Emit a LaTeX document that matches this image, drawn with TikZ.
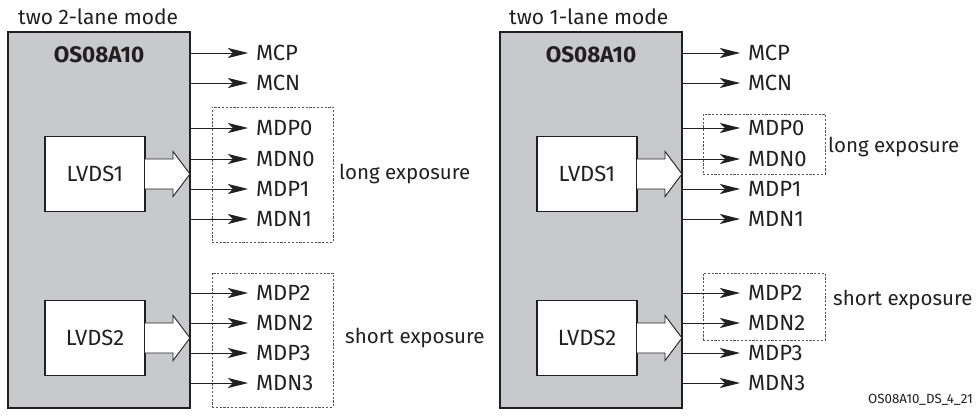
\documentclass[tikz,border=0pt]{standalone}
\usepackage{fontspec}
\setmainfont{Fira Sans}
\usetikzlibrary{arrows.meta}
\definecolor{ink}{HTML}{231F20}
\definecolor{chipgray}{HTML}{C8C9CB}
\definecolor{dashgray}{HTML}{555555}
\tikzset{
  chip/.style={draw=ink, line width=2pt, fill=chipgray, outer sep=0pt, inner sep=0pt,
    minimum width=182pt, minimum height=376pt, anchor=north west},
  lvds/.style={draw=ink, line width=1.8pt, fill=white, outer sep=0pt, inner sep=0pt,
    minimum width=100pt, minimum height=75pt, text=ink},
  sig/.style={draw=ink, line width=0.9pt, -{Stealth[length=20pt,width=10pt,inset=5pt]}},
  pin/.style={anchor=west, inner xsep=8pt, inner ysep=0pt, outer sep=0pt, text=ink},
  hollow/.style={draw=ink, line width=0.9pt, fill=white, line join=miter},
  grp/.style={draw=dashgray, line width=0.8pt, dash pattern=on 2.2pt off 1.6pt,
    outer sep=0pt, inner sep=0pt},
  chipname/.style={font=\fontsize{22.5}{26}\selectfont\bfseries, text=ink},
  title/.style={font=\fontsize{21}{25}\selectfont, text=ink, inner sep=0pt, anchor=west},
  expo/.style={font=\fontsize{20.5}{24}\selectfont, text=ink, inner sep=0pt, anchor=west},
  tag/.style={font=\fontsize{13.3}{16}\selectfont, text=ink, inner sep=0pt, anchor=east}
}
\begin{document}
\begin{tikzpicture}[x=1pt, y=-1pt, font=\fontsize{22}{26}\selectfont]
\useasboundingbox (0,0) rectangle (977,415);

% ---------------- left panel: two 2-lane mode ----------------
\node[title] (titleA) at (18,17) {two 2-lane mode};
\node[chip] (chipA) at (8,32) {};
\node[chipname] (nameA) at (99,55) {OS08A10};
\node[lvds] (lvA1) at (95,174) {LVDS1};
\node[lvds] (lvA2) at (95,338) {LVDS2};
\draw[hollow] (lvA1.east) ++(0,-15) -- ++(28,0) -- ++(0,-7.5) -- (chipA.east |- lvA1.east)
  -- ++(-17,22.5) -- ++(0,-7.5) -- ++(-28,0);
\draw[hollow] (lvA2.east) ++(0,-15) -- ++(28,0) -- ++(0,-7.5) -- (chipA.east |- lvA2.east)
  -- ++(-17,22.5) -- ++(0,-7.5) -- ++(-28,0);

\node[grp, minimum width=121pt, minimum height=135pt, anchor=north west] (grpA1) at (212,107) {};
\node[grp, minimum width=121pt, minimum height=134pt, anchor=north west] (grpA2) at (212,273) {};

\node[pin] (aMCP)  at (248,53)  {MCP};
\node[pin] (aMCN)  at (248,83)  {MCN};
\node[pin] (aMDP0) at (248,128) {MDP0};
\node[pin] (aMDN0) at (248,159) {MDN0};
\node[pin] (aMDP1) at (248,189) {MDP1};
\node[pin] (aMDN1) at (248,219) {MDN1};
\node[pin] (aMDP2) at (248,293) {MDP2};
\node[pin] (aMDN2) at (248,323) {MDN2};
\node[pin] (aMDP3) at (248,353) {MDP3};
\node[pin] (aMDN3) at (248,383) {MDN3};
\foreach \p in {MCP,MCN,MDP0,MDN0,MDP1,MDN1,MDP2,MDN2,MDP3,MDN3}
  \draw[sig] (chipA.east |- a\p.west) -- (a\p.west);

\node[expo] (longA) at (339,174) {long exposure};
\node[expo] (shortA) at (345,338) {short exposure};

% ---------------- right panel: two 1-lane mode ----------------
\node[title] (titleB) at (509,17) {two 1-lane mode};
\node[chip] (chipB) at (500,32) {};
\node[chipname] (nameB) at (591,55) {OS08A10};
\node[lvds] (lvB1) at (587,174) {LVDS1};
\node[lvds] (lvB2) at (587,338) {LVDS2};
\draw[hollow] (lvB1.east) ++(0,-15) -- ++(28,0) -- ++(0,-7.5) -- (chipB.east |- lvB1.east)
  -- ++(-17,22.5) -- ++(0,-7.5) -- ++(-28,0);
\draw[hollow] (lvB2.east) ++(0,-15) -- ++(28,0) -- ++(0,-7.5) -- (chipB.east |- lvB2.east)
  -- ++(-17,22.5) -- ++(0,-7.5) -- ++(-28,0);

\node[grp, minimum width=122pt, minimum height=60pt, anchor=north west] (grpB1) at (703,114) {};
\node[grp, minimum width=122pt, minimum height=67pt, anchor=north west] (grpB2) at (703,273) {};

\node[pin] (bMCP)  at (740,53)  {MCP};
\node[pin] (bMCN)  at (740,83)  {MCN};
\node[pin] (bMDP0) at (740,128) {MDP0};
\node[pin] (bMDN0) at (740,159) {MDN0};
\node[pin] (bMDP1) at (740,189) {MDP1};
\node[pin] (bMDN1) at (740,219) {MDN1};
\node[pin] (bMDP2) at (740,293) {MDP2};
\node[pin] (bMDN2) at (740,323) {MDN2};
\node[pin] (bMDP3) at (740,353) {MDP3};
\node[pin] (bMDN3) at (740,383) {MDN3};
\foreach \p in {MCP,MCN,MDP0,MDN0,MDP1,MDN1,MDP2,MDN2,MDP3,MDN3}
  \draw[sig] (chipB.east |- b\p.west) -- (b\p.west);

\node[expo] (longB) at (828,147) {long exposure};
\node[expo] (shortB) at (833,300) {short exposure};

\node[tag] (figid) at (973,400) {OS08A10\_DS\_4\_21};
\end{tikzpicture}
\end{document}
